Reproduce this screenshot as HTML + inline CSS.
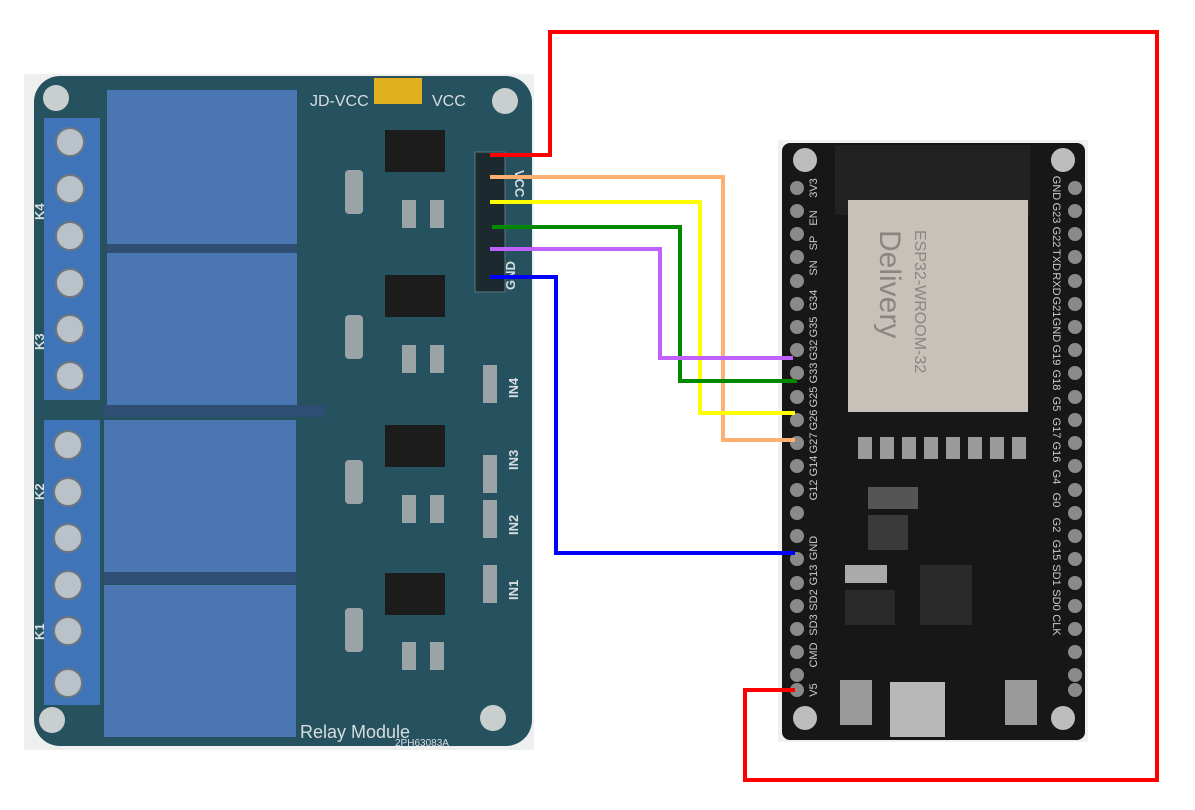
<!DOCTYPE html>
<html><head><meta charset="utf-8"><style>
body{margin:0;background:#fff;}
svg{display:block;font-family:"Liberation Sans",sans-serif;}
</style></head><body>
<svg width="1195" height="810" viewBox="0 0 1195 810" xmlns="http://www.w3.org/2000/svg">
<rect width="1195" height="810" fill="#fff"/>
<!-- Relay board -->
<rect x="24" y="74" width="510" height="676" fill="#eef0f0"/>
<rect x="34" y="76" width="498" height="670" rx="26" fill="#26525f"/>
<circle cx="56" cy="98" r="13" fill="#c9cfcf"/><circle cx="505" cy="101" r="13" fill="#c9cfcf"/>
<circle cx="52" cy="720" r="13" fill="#c9cfcf"/><circle cx="493" cy="718" r="13" fill="#c9cfcf"/>
<rect x="44" y="118" width="56" height="282" fill="#3f74b8"/>
<rect x="44" y="420" width="56" height="285" fill="#3f74b8"/>
<g fill="#b9c2c8" stroke="#6c7780" stroke-width="2">
<circle cx="70" cy="142" r="14"/><circle cx="70" cy="189" r="14"/><circle cx="70" cy="236" r="14"/><circle cx="70" cy="283" r="14"/><circle cx="70" cy="329" r="14"/><circle cx="70" cy="376" r="14"/>
<circle cx="68" cy="445" r="14"/><circle cx="68" cy="492" r="14"/><circle cx="68" cy="538" r="14"/><circle cx="68" cy="585" r="14"/><circle cx="68" cy="631" r="14"/><circle cx="68" cy="683" r="14"/>
</g>
<g fill="#4a77b2">
<rect x="107" y="90" width="190" height="154"/>
<rect x="107" y="253" width="190" height="152"/>
<rect x="104" y="420" width="192" height="152"/>
<rect x="104" y="585" width="192" height="152"/>
</g>
<g fill="#2e4f73"><rect x="107" y="244" width="190" height="9"/><rect x="104" y="405" width="220" height="12"/><rect x="104" y="572" width="192" height="12"/></g>
<g fill="#1c1c1c"><rect x="385" y="130" width="60" height="42"/><rect x="385" y="275" width="60" height="42"/><rect x="385" y="425" width="60" height="42"/><rect x="385" y="573" width="60" height="42"/></g>
<g fill="#9aa3a5"><rect x="345" y="170" width="18" height="44" rx="4"/><rect x="345" y="315" width="18" height="44" rx="4"/><rect x="345" y="460" width="18" height="44" rx="4"/><rect x="345" y="608" width="18" height="44" rx="4"/>
<rect x="402" y="200" width="14" height="28"/><rect x="430" y="200" width="14" height="28"/><rect x="402" y="345" width="14" height="28"/><rect x="430" y="345" width="14" height="28"/>
<rect x="402" y="495" width="14" height="28"/><rect x="430" y="495" width="14" height="28"/><rect x="402" y="642" width="14" height="28"/><rect x="430" y="642" width="14" height="28"/>
<rect x="483" y="365" width="14" height="38"/><rect x="483" y="455" width="14" height="38"/><rect x="483" y="500" width="14" height="38"/><rect x="483" y="565" width="14" height="38"/></g>
<rect x="374" y="78" width="48" height="26" fill="#e0b020"/>
<text x="310" y="106" fill="#d7dde0" font-size="16">JD-VCC</text><text x="432" y="106" fill="#d7dde0" font-size="16">VCC</text>
<rect x="475" y="152" width="30" height="140" fill="#1c2a30" stroke="#5a7580"/>
<g fill="#d7dde0" font-size="13" font-weight="bold">
<text transform="translate(515,170) rotate(90)">VCC</text>
<text transform="translate(515,290) rotate(-90)">GND</text>
<text transform="translate(518,398) rotate(-90)">IN4</text><text transform="translate(518,470) rotate(-90)">IN3</text>
<text transform="translate(518,535) rotate(-90)">IN2</text><text transform="translate(518,600) rotate(-90)">IN1</text>
<text transform="translate(44,220) rotate(-90)">K4</text><text transform="translate(44,350) rotate(-90)">K3</text>
<text transform="translate(44,500) rotate(-90)">K2</text><text transform="translate(44,640) rotate(-90)">K1</text>
</g>
<text x="300" y="738" fill="#d7dde0" font-size="18">Relay Module</text>
<text x="395" y="746" fill="#d7dde0" font-size="10">2PH63083A</text>
<!-- ESP32 -->
<rect x="778" y="140" width="310" height="602" fill="#f0f0ee"/>
<rect x="782" y="143" width="303" height="597" rx="8" fill="#171717"/>
<circle cx="805" cy="160" r="12" fill="#bdbdbd"/><circle cx="1063" cy="160" r="12" fill="#bdbdbd"/>
<circle cx="805" cy="718" r="12" fill="#bdbdbd"/><circle cx="1063" cy="718" r="12" fill="#bdbdbd"/>
<rect x="835" y="145" width="195" height="70" fill="#222"/>
<rect x="848" y="200" width="180" height="212" fill="#c8c1ba"/>
<text transform="translate(880,230) rotate(90)" fill="#8a8580" font-size="30">Delivery</text>
<text transform="translate(915,230) rotate(90)" fill="#8a8580" font-size="16">ESP32-WROOM-32</text>
<g fill="#8a8a8a">
<circle cx="797" cy="188" r="7"/><circle cx="797" cy="211" r="7"/><circle cx="797" cy="234" r="7"/><circle cx="797" cy="257" r="7"/><circle cx="797" cy="281" r="7"/><circle cx="797" cy="304" r="7"/><circle cx="797" cy="327" r="7"/><circle cx="797" cy="350" r="7"/><circle cx="797" cy="373" r="7"/><circle cx="797" cy="397" r="7"/><circle cx="797" cy="420" r="7"/><circle cx="797" cy="443" r="7"/><circle cx="797" cy="466" r="7"/><circle cx="797" cy="490" r="7"/><circle cx="797" cy="513" r="7"/><circle cx="797" cy="536" r="7"/><circle cx="797" cy="559" r="7"/><circle cx="797" cy="583" r="7"/><circle cx="797" cy="606" r="7"/><circle cx="797" cy="629" r="7"/><circle cx="797" cy="652" r="7"/><circle cx="797" cy="675" r="7"/><circle cx="797" cy="690" r="7"/>
<circle cx="1075" cy="188" r="7"/><circle cx="1075" cy="211" r="7"/><circle cx="1075" cy="234" r="7"/><circle cx="1075" cy="257" r="7"/><circle cx="1075" cy="281" r="7"/><circle cx="1075" cy="304" r="7"/><circle cx="1075" cy="327" r="7"/><circle cx="1075" cy="350" r="7"/><circle cx="1075" cy="373" r="7"/><circle cx="1075" cy="397" r="7"/><circle cx="1075" cy="420" r="7"/><circle cx="1075" cy="443" r="7"/><circle cx="1075" cy="466" r="7"/><circle cx="1075" cy="490" r="7"/><circle cx="1075" cy="513" r="7"/><circle cx="1075" cy="536" r="7"/><circle cx="1075" cy="559" r="7"/><circle cx="1075" cy="583" r="7"/><circle cx="1075" cy="606" r="7"/><circle cx="1075" cy="629" r="7"/><circle cx="1075" cy="652" r="7"/><circle cx="1075" cy="675" r="7"/><circle cx="1075" cy="690" r="7"/>
</g>
<g fill="#ccc" font-size="11" text-anchor="middle">
<text transform="translate(817,188) rotate(-90)">3V3</text><text transform="translate(817,218) rotate(-90)">EN</text><text transform="translate(817,243) rotate(-90)">SP</text><text transform="translate(817,268) rotate(-90)">SN</text><text transform="translate(817,300) rotate(-90)">G34</text><text transform="translate(817,327) rotate(-90)">G35</text><text transform="translate(817,350) rotate(-90)">G32</text><text transform="translate(817,373) rotate(-90)">G33</text><text transform="translate(817,397) rotate(-90)">G25</text><text transform="translate(817,420) rotate(-90)">G26</text><text transform="translate(817,443) rotate(-90)">G27</text><text transform="translate(817,466) rotate(-90)">G14</text><text transform="translate(817,490) rotate(-90)">G12</text><text transform="translate(817,548) rotate(-90)">GND</text><text transform="translate(817,575) rotate(-90)">G13</text><text transform="translate(817,600) rotate(-90)">SD2</text><text transform="translate(817,625) rotate(-90)">SD3</text><text transform="translate(817,655) rotate(-90)">CMD</text><text transform="translate(817,690) rotate(-90)">V5</text>
<text transform="translate(1053,188) rotate(90)">GND</text><text transform="translate(1053,213) rotate(90)">G23</text><text transform="translate(1053,237) rotate(90)">G22</text><text transform="translate(1053,260) rotate(90)">TXD</text><text transform="translate(1053,284) rotate(90)">RXD</text><text transform="translate(1053,307) rotate(90)">G21</text><text transform="translate(1053,330) rotate(90)">GND</text><text transform="translate(1053,355) rotate(90)">G19</text><text transform="translate(1053,380) rotate(90)">G18</text><text transform="translate(1053,404) rotate(90)">G5</text><text transform="translate(1053,428) rotate(90)">G17</text><text transform="translate(1053,452) rotate(90)">G16</text><text transform="translate(1053,477) rotate(90)">G4</text><text transform="translate(1053,500) rotate(90)">G0</text><text transform="translate(1053,525) rotate(90)">G2</text><text transform="translate(1053,550) rotate(90)">G15</text><text transform="translate(1053,575) rotate(90)">SD1</text><text transform="translate(1053,600) rotate(90)">SD0</text><text transform="translate(1053,625) rotate(90)">CLK</text>
</g>
<g fill="#2a2a2a"><rect x="920" y="565" width="52" height="60"/><rect x="845" y="590" width="50" height="35"/></g>
<g fill="#9a9a9a"><rect x="858" y="437" width="14" height="22"/><rect x="880" y="437" width="14" height="22"/><rect x="902" y="437" width="14" height="22"/><rect x="924" y="437" width="14" height="22"/><rect x="946" y="437" width="14" height="22"/><rect x="968" y="437" width="14" height="22"/><rect x="990" y="437" width="14" height="22"/><rect x="1012" y="437" width="14" height="22"/></g>
<rect x="845" y="565" width="42" height="18" fill="#aaa"/>
<rect x="868" y="487" width="50" height="22" fill="#555"/>
<rect x="868" y="515" width="40" height="35" fill="#3a3a3a"/>
<rect x="890" y="682" width="55" height="55" fill="#b8b8b8"/>
<rect x="840" y="680" width="32" height="45" fill="#9a9a9a"/><rect x="1005" y="680" width="32" height="45" fill="#9a9a9a"/>
<!-- wires -->
<g fill="none" stroke-width="4">
<polyline stroke="#ff0000" points="490,155 550,155 550,32 1157,32 1157,780 745,780 745,690 795,690"/>
<polyline stroke="#ffb070" points="490,177 723,177 723,440 795,440"/>
<polyline stroke="#ffff00" points="490,202 700,202 700,413 795,413"/>
<polyline stroke="#008800" points="492,227 680,227 680,381 797,381"/>
<polyline stroke="#c060ff" points="490,249 660,249 660,358 793,358"/>
<polyline stroke="#0000ff" points="490,277 556,277 556,553 795,553"/>
</g>
</svg>
</body></html>
